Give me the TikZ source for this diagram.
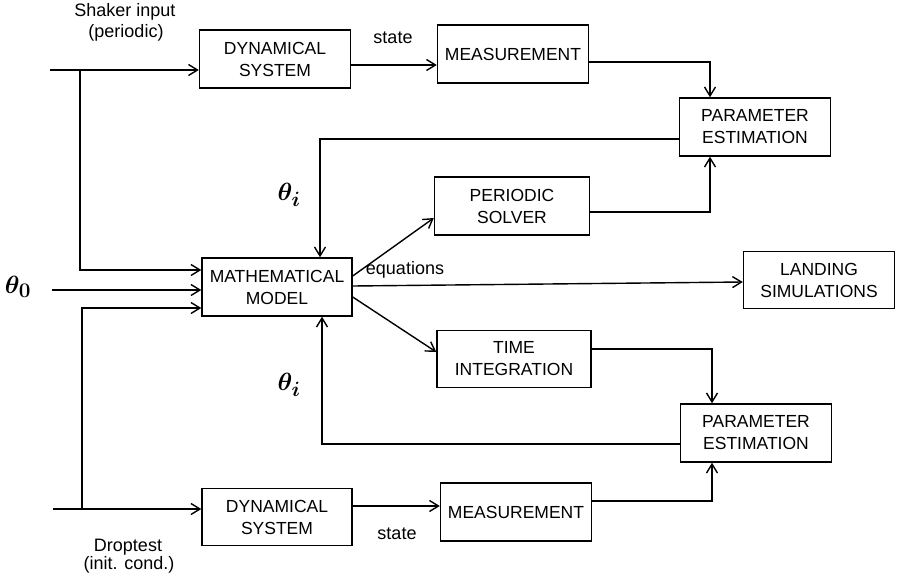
\documentclass[tikz,border=0pt]{standalone}
\usepackage{fontspec}
\setmainfont{Liberation Sans}
\usepackage{tikz}
\usetikzlibrary{arrows.meta}

\begin{document}
\begin{tikzpicture}[
    x=1pt, y=-1pt,
    line width=1.4pt,
    >={Straight Barb[length=9pt, width=11pt, line width=1.4pt]},
    block/.style={draw, align=center, minimum width=151pt, minimum height=58pt,
        inner sep=1pt, font=\fontsize{17.5}{22}\selectfont},
    lbl/.style={font=\fontsize{18}{20}\selectfont, inner sep=0pt},
    param/.style={font=\fontsize{24.88}{28}\selectfont\boldmath, inner sep=0pt}
]
\useasboundingbox (0,0) rectangle (899,578);

\node[block] (dsTop) at (275,59) {DYNAMICAL\\SYSTEM};
\node[block] (measTop) at (513,54) {MEASUREMENT};
\node[block] (peTop) at (755,127) {PARAMETER\\ESTIMATION};
\node[block, minimum width=155pt] (solver) at (512,206) {PERIODIC\\SOLVER};
\node[block, minimum width=150pt] (model) at (277,287) {MATHEMATICAL\\MODEL};
\node[block, minimum height=57pt] (landing) at (819,280) {LANDING\\SIMULATIONS};
\node[block, minimum width=154pt, minimum height=57pt] (timeint) at (514,359) {TIME\\INTEGRATION};
\node[block] (peBot) at (756,433) {PARAMETER\\ESTIMATION};
\node[block, minimum width=150pt, minimum height=57pt] (dsBot) at (277,517) {DYNAMICAL\\SYSTEM};
\node[block] (measBot) at (516,512) {MEASUREMENT};

\node[lbl] (shaker) at (125,12) {Shaker input};
\node[lbl] (periodic) at (126,33) {(periodic)};
\node[lbl] (droptest) at (128,547) {Droptest};
\node[lbl] (initcond) at (129,565) {(init. cond.)};
\node[lbl] (stateTop) at (393,38) {state};
\node[lbl] (stateBot) at (397,534) {state};
\node[lbl] (equations) at (405,270) {equations};
\node[param] (thetaZero) at (18,287) {$\theta_0$};
\node[param] (thetaTop) at (289,195) {$\theta_i$};
\node[param] (thetaBot) at (289,385) {$\theta_i$};

\coordinate (inTop) at (50,70);
\coordinate (brTop) at (80,70);
\coordinate (inZero) at (52,290);
\coordinate (inBot) at (53,509);
\coordinate (brBot) at (82,509);

\draw[->] (inTop) -- (inTop -| dsTop.west);
\draw[->] (brTop) |- ([yshift=17pt]model.west);
\draw[->] (inZero) -- (inZero -| model.west);
\draw[->] (brBot) |- ([yshift=-21pt]model.west);
\draw[->] (inBot) -- (inBot -| dsBot.west);

\draw[->] ([yshift=-6pt]dsTop.east) -- ([yshift=-11pt]measTop.west);
\draw[->] ([yshift=-8pt]measTop.east) -| ([xshift=-45pt]peTop.north);
\draw[->] ([yshift=-12pt]peTop.west) -| ([xshift=43pt]model.north);
\draw[->] ([yshift=-6pt]solver.east) -| ([xshift=-45pt]peTop.south);
\draw[->] ([yshift=11pt]model.east) -- ([yshift=-12pt]solver.west);
\draw[->] ([yshift=1pt]model.east) -- ([yshift=-2pt]landing.west);
\draw[->] ([yshift=-10pt]model.east) -- ([yshift=7pt]timeint.west);
\draw[->] ([yshift=10pt]timeint.east) -| ([xshift=-44pt]peBot.north);
\draw[->] ([yshift=-11pt]peBot.west) -| ([xshift=45pt]model.south);
\draw[->] ([yshift=11pt]dsBot.east) -- ([yshift=6pt]measBot.west);
\draw[->] ([yshift=11pt]measBot.east) -| ([xshift=-44pt]peBot.south);
\end{tikzpicture}
\end{document}
